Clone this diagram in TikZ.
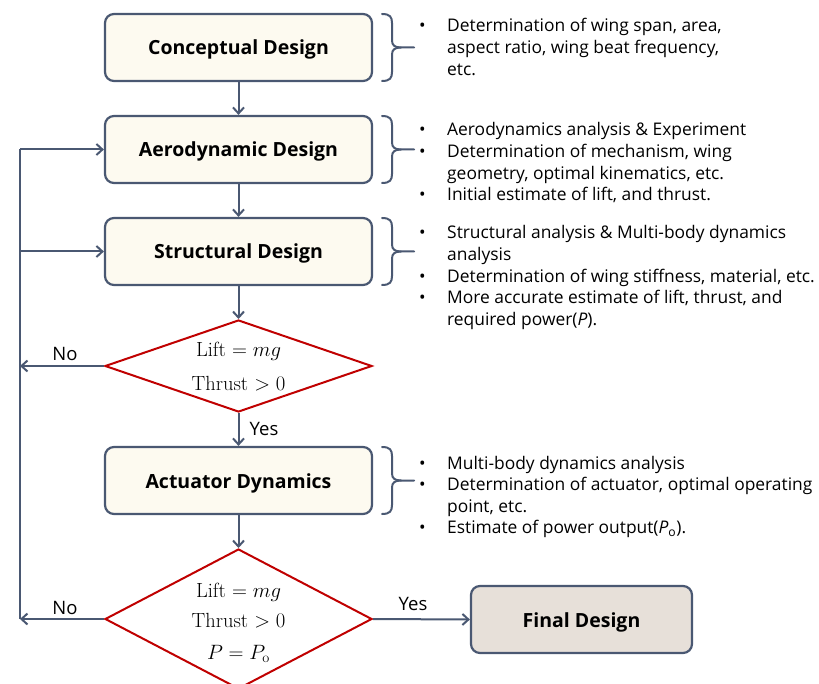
\documentclass[tikz,border=0pt]{standalone}
\usepackage{fontspec}
\usetikzlibrary{arrows.meta,shapes.geometric}
\newfontfamily\osans{Open Sans}
\definecolor{slate}{HTML}{4A5872}
\definecolor{cream}{HTML}{FDFAF0}
\definecolor{finalfill}{HTML}{E7E0D9}
\definecolor{dred}{HTML}{C00000}
\newcommand{\bulletlist}[1]{{\osans\fontsize{17.4}{21.6}\selectfont\begin{tabular}[t]{@{}p{28pt}@{}l@{}}#1\end{tabular}}}
\begin{document}
\begin{tikzpicture}[x=1pt,y=-1pt,
  stepbox/.style={draw=slate,line width=2.2pt,fill=cream,rounded corners=9pt,minimum width=267pt,minimum height=67pt,inner sep=0pt,text height=15pt,text depth=0pt,font=\osans\bfseries\fontsize{19.5}{22}\selectfont},
  decision/.style={diamond,draw=dred,line width=2pt,fill=white,inner sep=0pt,minimum width=267pt},
  conn/.style={draw=slate,line width=2pt,-{Straight Barb[length=6pt,width=11pt,line width=2pt]}},
  plainline/.style={draw=slate,line width=2pt},
  bracestyle/.style={draw=slate,line width=2pt,line cap=round,line join=round},
  lbl/.style={font=\osans\fontsize{18.5}{21}\selectfont,inner sep=0pt},
  cond/.style={font=\fontsize{20.5}{24}\selectfont,inner sep=0pt}
]
\clip (0,0) rectangle (819,684);
\fill[white] (0,0) rectangle (819,684);

% boxes
\node[stepbox] (concept) at (238.5,47.5) {Conceptual Design};
\node[stepbox] (aero) at (238.5,149.5) {Aerodynamic Design};
\node[stepbox] (struct) at (238.5,251.5) {Structural Design};
\node[stepbox] (act) at (238.5,480.5) {Actuator Dynamics};
\node[stepbox,fill=finalfill,minimum width=221pt] (final) at (581.5,619.5) {Final Design};

% decisions
\node[decision,minimum height=92pt] (d1) at (238.5,366) {};
\node[decision,minimum height=140pt] (d2) at (238.5,619) {};
\node[cond,anchor=base] (d1a) at (238.5,357) {Lift $=mg$};
\node[cond,anchor=base] (d1b) at (238.5,390) {Thrust $>0$};
\node[cond,anchor=base] (d2a) at (238.5,597) {Lift $=mg$};
\node[cond,anchor=base] (d2b) at (238.5,627) {Thrust $>0$};
\node[cond,anchor=base] (d2c) at (238.5,659) {$P=P_{\mathrm{o}}$};

% loop coordinates
\coordinate (l1) at (20,366);
\coordinate (l2) at (20,619);
\coordinate (la) at (20,149.5);
\coordinate (ls) at (20,251.5);

% connectors
\draw[conn] (concept.south) -- (aero.north);
\draw[conn] (aero.south) -- (struct.north);
\draw[conn] (struct.south) -- (d1.north);
\draw[conn] (d1.south) -- (act.north);
\draw[conn] (act.south) -- (d2.north);
\draw[conn] (d2.east) -- (final.west);
\draw[conn] (d1.west) -- (l1);
\draw[conn] (d2.west) -- (l2);
\draw[plainline] (l2) -- (la);
\draw[conn] (la) -- (aero.west);
\draw[conn] (ls) -- (struct.west);

% labels
\node[lbl,anchor=base] (no1) at (65,361) {No};
\node[lbl,anchor=base] (no2) at (65,614) {No};
\node[lbl,anchor=base] (yes1) at (264,435) {Yes};
\node[lbl,anchor=base] (yes2) at (413,610) {Yes};

% braces
\foreach \t/\b in {14/81, 116/183, 218/285, 447/514}{
  \pgfmathsetmacro{\m}{(\t+\b)/2}
  \draw[bracestyle] (382,\t) .. controls (390,\t) and (392,\t+3) .. (392,\t+9)
    -- (392,\m-7) .. controls (392,\m-2) and (395,\m) .. (401,\m) -- (414,\m);
  \draw[bracestyle] (382,\b) .. controls (390,\b) and (392,\b-3) .. (392,\b-9)
    -- (392,\m+7) .. controls (392,\m+2) and (395,\m) .. (401,\m);
}

% bullet texts
\node[anchor=base west,inner sep=0pt] (t1) at (419,32) {\bulletlist{%
• & Determination of wing span, area,\\
  & aspect ratio, wing beat frequency,\\
  & etc.}};
\node[anchor=base west,inner sep=0pt] (t2) at (419,136) {\bulletlist{%
• & Aerodynamics analysis \& Experiment\\
• & Determination of mechanism, wing\\
  & geometry, optimal kinematics, etc.\\
• & Initial estimate of lift, and thrust.}};
\node[anchor=base west,inner sep=0pt] (t3) at (419,239) {\bulletlist{%
• & Structural analysis \& Multi-body dynamics\\
  & analysis\\
• & Determination of wing stiffness, material, etc.\\
• & More accurate estimate of lift, thrust, and\\
  & required power(\textit{P}).}};
\node[anchor=base west,inner sep=0pt] (t4) at (419,469) {\bulletlist{%
• & Multi-body dynamics analysis\\
• & Determination of actuator, optimal operating\\
  & point, etc.\\
• & Estimate of power output(\textit{P}\textsubscript{o}).}};
\end{tikzpicture}
\end{document}
